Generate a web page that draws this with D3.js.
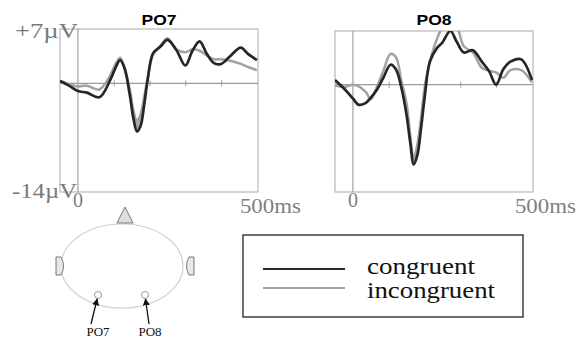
<!DOCTYPE html>
<html>
<head>
<meta charset="utf-8">
<script src="https://cdn.jsdelivr.net/npm/d3@7"></script>
<style>
  body { margin: 0; background: #fff; }
  svg { display: block; }
</style>
</head>
<body>
<svg id="chart" width="582" height="340"></svg>
<script>
// ERP waveforms, time in ms, amplitude in microvolts
const po7Times = [-50, -25, 0, 25, 60, 90, 105, 118, 130, 145, 155, 165, 175, 185, 195, 210, 230, 250, 275, 300, 320, 340, 360, 380, 400, 425, 455, 475, 500];
const po7Congruent = [0.3, -0.3, -1.0, -1.2, -1.8, 0.4, 2.0, 3.0, 2.0, -1.5, -4.5, -6.2, -5.5, -2.8, 0.5, 3.9, 4.7, 5.6, 4.3, 2.3, 4.2, 5.4, 3.8, 2.6, 2.5, 3.5, 4.6, 3.8, 3.0];
const po7Incongruent = [0.3, -0.1, -0.4, -0.3, -0.8, 1.0, 2.5, 3.3, 2.0, -0.8, -3.5, -4.8, -4.0, -1.8, 0.8, 3.7, 4.8, 5.8, 4.4, 4.0, 4.4, 4.2, 3.6, 3.1, 3.1, 2.9, 2.5, 2.1, 1.7];

const po8Times = [-50, -25, 0, 15, 35, 50, 65, 85, 105, 120, 135, 150, 160, 170, 180, 190, 200, 215, 235, 250, 272, 290, 310, 335, 360, 380, 400, 420, 440, 470, 500];
const po8Congruent = [0.6, -0.5, -1.8, -2.6, -2.4, -1.7, -0.8, 0.9, 2.6, 2.0, -0.3, -4.0, -7.5, -10.4, -9.2, -5.8, -1.8, 3.0, 4.8, 5.5, 7.0, 5.6, 4.2, 4.5, 3.0, 1.8, 0.0, 2.0, 3.0, 3.3, 0.6];
const po8Incongruent = [-0.1, -0.3, 0.0, -0.2, -0.9, -1.9, -0.5, 1.8, 4.0, 3.6, 0.6, -2.5, -6.5, -9.6, -7.8, -4.5, -0.5, 3.0, 6.0, 7.4, 7.9, 7.5, 5.0, 4.2, 2.2, 1.8, 1.6, 0.9, 1.9, 1.9, 0.3];

const timeTicks = [100, 200, 300, 400];
const ampDomain = [-14, 7];
const timeDomain = [-50, 503];
const legendLabels = ['congruent', 'incongruent'];
const electrodes = ['PO7', 'PO8'];

const svg = d3.select('#chart');
const serif = '"Liberation Serif", "Times New Roman", serif';
const sans = '"Liberation Sans", Arial, sans-serif';
const dark = '#262626';
const light = '#a2a2a2';

function drawPanel(p) {
  const x = d3.scaleLinear().domain(timeDomain).range([p.left, p.right]);
  const y = d3.scaleLinear().domain(ampDomain).range([p.bottom, p.top]);
  const g = svg.append('g');

  g.append('clipPath')
    .attr('id', 'clip-' + p.name)
    .append('rect')
    .attr('x', p.left)
    .attr('y', p.top)
    .attr('width', p.right - p.left)
    .attr('height', p.bottom - p.top);

  g.append('rect')
    .attr('x', p.left)
    .attr('y', p.top)
    .attr('width', p.right - p.left)
    .attr('height', p.bottom - p.top)
    .attr('fill', 'none')
    .attr('stroke', '#b8b8b8')
    .attr('stroke-width', 1.2);

  // zero line with time ticks
  g.append('line')
    .attr('x1', p.left)
    .attr('x2', p.right)
    .attr('y1', y(0))
    .attr('y2', y(0))
    .attr('stroke', '#9a9a9a')
    .attr('stroke-width', 1.3);

  const ticks = g.append('g')
    .attr('transform', 'translate(0,' + (y(0) - 3) + ')')
    .call(d3.axisBottom(x).tickValues(timeTicks).tickSize(6).tickFormat(''));
  ticks.select('.domain').remove();
  ticks.selectAll('line').attr('stroke', '#9a9a9a');

  g.append('line')
    .attr('x1', x(0))
    .attr('x2', x(0))
    .attr('y1', p.top)
    .attr('y2', p.bottom)
    .attr('stroke', '#a8a8a8')
    .attr('stroke-width', 1.3);

  const rows = p.times.map((t, i) => ({ t: t, c: p.congruent[i], n: p.incongruent[i] }));
  const plot = g.append('g').attr('clip-path', 'url(#clip-' + p.name + ')');

  // shaded difference at the N170 dip
  plot.append('path')
    .datum(rows.filter(d => d.t >= 135 && d.t <= 200))
    .attr('fill', '#a6a6a6')
    .attr('d', d3.area()
      .x(d => x(d.t))
      .y0(d => y(d.c))
      .y1(d => y(d.n))
      .curve(d3.curveCatmullRom));

  const line = key => d3.line()
    .x(d => x(d.t))
    .y(d => y(d[key]))
    .curve(d3.curveCatmullRom);

  plot.append('path')
    .datum(rows)
    .attr('fill', 'none')
    .attr('stroke', light)
    .attr('stroke-width', 2.5)
    .attr('d', line('n'));

  plot.append('path')
    .datum(rows)
    .attr('fill', 'none')
    .attr('stroke', dark)
    .attr('stroke-width', 2.7)
    .attr('d', line('c'));

  g.append('text')
    .attr('x', (p.left + p.right) / 2)
    .attr('y', 25)
    .attr('text-anchor', 'middle')
    .attr('font-family', sans)
    .attr('font-weight', 'bold')
    .attr('font-size', 15)
    .attr('textLength', 35)
    .attr('lengthAdjust', 'spacingAndGlyphs')
    .text(p.name);

  g.append('text')
    .attr('x', x(0))
    .attr('y', 207)
    .attr('text-anchor', 'middle')
    .attr('font-family', serif)
    .attr('font-size', 20)
    .attr('fill', '#808080')
    .text('0');

  g.append('text')
    .attr('x', x(500) - 17)
    .attr('y', 213)
    .attr('font-family', serif)
    .attr('font-size', 20)
    .attr('fill', '#808080')
    .attr('textLength', 61)
    .attr('lengthAdjust', 'spacingAndGlyphs')
    .text('500ms');

  return { x: x, y: y };
}

drawPanel({ name: electrodes[0], left: 60, right: 258, top: 29, bottom: 192, times: po7Times, congruent: po7Congruent, incongruent: po7Incongruent });
drawPanel({ name: electrodes[1], left: 335, right: 533, top: 31, bottom: 192, times: po8Times, congruent: po8Congruent, incongruent: po8Incongruent });

// amplitude labels on the left panel
svg.append('text')
  .attr('x', 15)
  .attr('y', 38)
  .attr('font-family', serif)
  .attr('font-size', 20)
  .attr('fill', '#7a7a7a')
  .attr('textLength', 63)
  .attr('lengthAdjust', 'spacingAndGlyphs')
  .text('+' + ampDomain[1] + 'µV');

svg.append('text')
  .attr('x', 12)
  .attr('y', 198)
  .attr('font-family', serif)
  .attr('font-size', 20)
  .attr('fill', '#7a7a7a')
  .attr('textLength', 65)
  .attr('lengthAdjust', 'spacingAndGlyphs')
  .text(ampDomain[0] + 'µV');

// head diagram
const head = svg.append('g');
head.append('ellipse')
  .attr('cx', 122).attr('cy', 266).attr('rx', 61).attr('ry', 42)
  .attr('fill', 'none').attr('stroke', '#d0d0d0').attr('stroke-width', 1.2);

head.append('path')
  .attr('d', 'M117,223 L133,223 L125,207 Z')
  .attr('fill', '#dedede').attr('stroke', '#777').attr('stroke-width', 1);

head.append('path')
  .attr('d', 'M56,257 L61,257 Q66,266 61,275 L56,275 Z')
  .attr('fill', '#e8e8e8').attr('stroke', '#777').attr('stroke-width', 1);
head.append('path')
  .attr('d', 'M194,257 L189,257 Q184,266 189,275 L194,275 Z')
  .attr('fill', '#e8e8e8').attr('stroke', '#777').attr('stroke-width', 1);

svg.append('defs').append('marker')
  .attr('id', 'arrow')
  .attr('viewBox', '0 0 10 10')
  .attr('refX', 9).attr('refY', 5)
  .attr('markerWidth', 7).attr('markerHeight', 7)
  .attr('markerUnits', 'userSpaceOnUse')
  .attr('orient', 'auto')
  .append('path')
  .attr('d', 'M0,0 L10,5 L0,10 Z')
  .attr('fill', '#111');

const sites = [
  { name: electrodes[0], cx: 98, cy: 295, lx: 91, ly: 324, tx: 98 },
  { name: electrodes[1], cx: 145, cy: 295, lx: 149, ly: 324, tx: 150 }
];

sites.forEach(s => {
  head.append('circle')
    .attr('cx', s.cx).attr('cy', s.cy).attr('r', 3.5)
    .attr('fill', '#fff').attr('stroke', '#999').attr('stroke-width', 1);
  head.append('line')
    .attr('x1', s.lx).attr('y1', s.ly)
    .attr('x2', s.cx + (s.lx - s.cx) * 0.12).attr('y2', s.cy + 4)
    .attr('stroke', '#111').attr('stroke-width', 1.3)
    .attr('marker-end', 'url(#arrow)');
  head.append('text')
    .attr('x', s.tx).attr('y', 336)
    .attr('text-anchor', 'middle')
    .attr('font-family', serif)
    .attr('font-size', 13)
    .attr('fill', '#111')
    .text(s.name);
});

// legend
const legend = svg.append('g');
legend.append('rect')
  .attr('x', 243).attr('y', 235).attr('width', 280).attr('height', 82)
  .attr('fill', 'none').attr('stroke', '#333').attr('stroke-width', 1.4);

const legendColors = [dark, light];
const legendY = [269, 288];
const legendBase = [274, 298];
const legendWidth = [108, 128];
legendLabels.forEach((lbl, i) => {
  legend.append('line')
    .attr('x1', 263).attr('x2', 345)
    .attr('y1', legendY[i]).attr('y2', legendY[i])
    .attr('stroke', legendColors[i]).attr('stroke-width', 2.2);
  legend.append('text')
    .attr('x', 367).attr('y', legendBase[i])
    .attr('font-family', serif)
    .attr('font-size', 23)
    .attr('fill', '#111')
    .attr('textLength', legendWidth[i])
    .attr('lengthAdjust', 'spacingAndGlyphs')
    .text(lbl);
});
</script>
</body>
</html>
